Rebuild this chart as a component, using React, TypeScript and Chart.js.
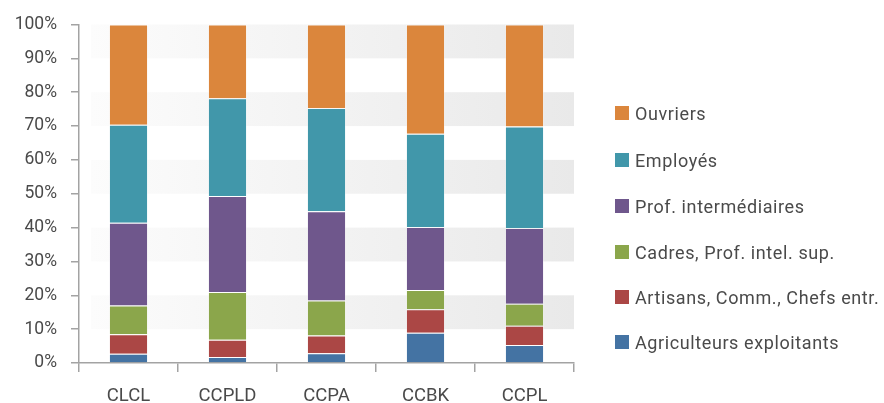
import React, { useEffect, useRef } from "react";
import { Chart, registerables } from "chart.js";

Chart.register(...registerables);

const categories = ["CLCL", "CCPLD", "CCPA", "CCBK", "CCPL"];
const agriculteurs = [2.7, 1.8, 2.9, 8.9, 5.3];
const artisans = [5.8, 5.1, 5.2, 7.0, 5.7];
const cadres = [8.5, 14.1, 10.4, 5.7, 6.5];
const profInter = [24.4, 28.3, 26.3, 18.6, 22.4];
const employes = [29.0, 28.9, 30.5, 27.5, 30.0];
const ouvriers = [29.6, 21.8, 24.7, 32.3, 30.1];

const seriesNames = [
  "Agriculteurs exploitants",
  "Artisans, Comm., Chefs entr.",
  "Cadres, Prof. intel. sup.",
  "Prof. intermédiaires",
  "Employés",
  "Ouvriers",
];
const seriesValues = [agriculteurs, artisans, cadres, profInter, employes, ouvriers];
const seriesColors = ["#4473a3", "#ab4745", "#8ba64b", "#6f578c", "#4197aa", "#db863c"];

const FONT = "Roboto, 'DejaVu Sans', sans-serif";
const TEXT = "#4a4a4a";
const AXIS = "#a3a3a3";

const bandsPlugin = {
  id: "bands",
  beforeDatasetsDraw(chart: any) {
    const { ctx, chartArea, scales } = chart;
    const y = scales.y;
    const x0 = chartArea.left + 12;
    const x1 = chartArea.right;
    const g = ctx.createLinearGradient(x0, 0, x1, 0);
    g.addColorStop(0, "#fcfcfc");
    g.addColorStop(1, "#e9e9e9");
    ctx.save();
    ctx.fillStyle = g;
    for (let v = 10; v < 100; v += 20) {
      const top = y.getPixelForValue(v + 10);
      const bot = y.getPixelForValue(v);
      ctx.fillRect(x0, top, x1 - x0, bot - top);
    }
    ctx.restore();
  },
};

export default function App() {
  const ref = useRef<HTMLCanvasElement | null>(null);

  useEffect(() => {
    if (!ref.current) return;
    const chart = new Chart(ref.current, {
      type: "bar",
      data: {
        labels: categories,
        datasets: seriesNames.map((name, i) => ({
          label: name,
          data: seriesValues[i],
          backgroundColor: seriesColors[i],
          borderColor: "rgba(255,255,255,0.35)",
          borderWidth: 1,
          categoryPercentage: 1,
          barPercentage: 0.395,
        })),
      },
      options: {
        animation: false,
        responsive: false,
        maintainAspectRatio: false,
        layout: { padding: { left: 0, right: 310, top: 21, bottom: 0 } },
        plugins: {
          legend: { display: false },
          tooltip: { enabled: false },
        },
        scales: {
          x: {
            stacked: true,
            grid: {
              display: true,
              drawOnChartArea: false,
              drawTicks: true,
              tickLength: 9,
              color: AXIS,
              lineWidth: 1.5,
            },
            border: { display: true, color: AXIS, width: 1.5 },
            ticks: { color: TEXT, font: { family: FONT, size: 18.5 }, padding: 13 },
            afterFit: (s: any) => {
              s.height = 40;
            },
          },
          y: {
            stacked: true,
            min: 0,
            max: 100,
            grid: {
              display: true,
              drawOnChartArea: false,
              drawTicks: true,
              tickLength: 8,
              color: AXIS,
              lineWidth: 1.5,
            },
            border: { display: true, color: AXIS, width: 1.5 },
            ticks: {
              stepSize: 10,
              color: TEXT,
              font: { family: FONT, size: 17.5 },
              padding: 14,
              callback: (v: any) => v + "%",
            },
            afterFit: (s: any) => {
              s.width = 79;
            },
          },
        },
      },
      plugins: [bandsPlugin],
    });
    return () => chart.destroy();
  }, []);

  const legendOrder = [5, 4, 3, 2, 1, 0];
  const rowY = [113, 160, 206, 252, 297, 342];

  return (
    <div style={{ position: "fixed", left: 0, top: 0, width: 884, height: 403, background: "#fff" }}>
      <canvas ref={ref} width={884} height={403} style={{ position: "absolute", left: 0, top: 0 }} />
      {legendOrder.map((idx, k) => (
        <div
          key={idx}
          style={{
            position: "absolute",
            left: 615,
            top: rowY[k] - 12,
            height: 24,
            display: "flex",
            alignItems: "center",
            fontFamily: FONT,
            fontSize: 18,
            letterSpacing: 0.6,
            color: TEXT,
            whiteSpace: "nowrap",
          }}
        >
          <span
            style={{
              display: "inline-block",
              width: 14,
              height: 14,
              background: seriesColors[idx],
              marginRight: 6,
            }}
          />
          <span>{seriesNames[idx]}</span>
        </div>
      ))}
    </div>
  );
}
